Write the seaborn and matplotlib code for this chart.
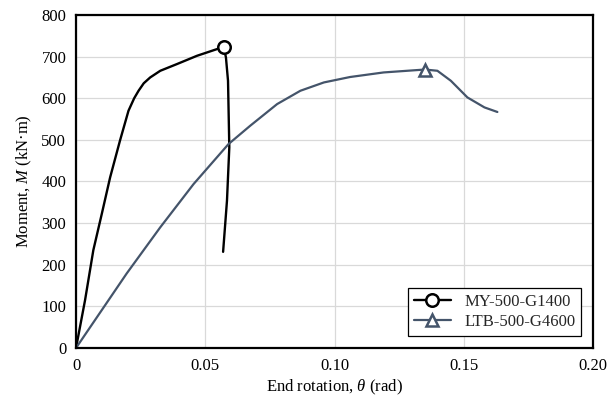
import numpy as np
import pandas as pd
import seaborn as sns
import matplotlib
matplotlib.use("Agg")
import matplotlib.pyplot as plt

# ---- data ----
my_theta = [0.0, 0.0035, 0.0067, 0.0100, 0.0132, 0.0170, 0.0203, 0.0225, 0.0242, 0.0262, 0.0287,
            0.0326, 0.0390, 0.0468, 0.0545, 0.0571, 0.0580, 0.0588, 0.0593, 0.0584, 0.0569]
my_moment = [0, 115, 235, 323, 410, 498, 570, 600, 618, 636, 650,
             666, 682, 702, 718, 724, 698, 642, 482, 354, 231]

ltb_theta = [0.0, 0.0196, 0.0326, 0.0455, 0.0590, 0.0674, 0.0778, 0.0868, 0.0959, 0.1060,
             0.1190, 0.1350, 0.1398, 0.1450, 0.1514, 0.1580, 0.1630]
ltb_moment = [0, 179, 290, 394, 490, 534, 586, 618, 638, 651,
              662, 669, 666, 642, 602, 578, 567]

series_names = ["MY-500-G1400", "LTB-500-G4600"]
x_ticks = [0, 0.05, 0.10, 0.15, 0.20]
x_tick_labels = ["0", "0.05", "0.10", "0.15", "0.20"]
y_ticks = [0, 100, 200, 300, 400, 500, 600, 700, 800]

sns.set_theme(style="whitegrid")
plt.rcParams["font.family"] = ["Liberation Serif", "DejaVu Serif"]
plt.rcParams["mathtext.fontset"] = "custom"
plt.rcParams["mathtext.rm"] = "Liberation Serif"
plt.rcParams["mathtext.it"] = "Liberation Serif:italic"

fig = plt.figure(figsize=(6.16, 4.01), dpi=100)
ax = fig.add_axes([0.1234, 0.1322, 0.8393, 0.8304])

slate = "#44546A"
my_peak = int(np.argmax(my_moment))
ltb_peak = int(np.argmax(ltb_moment))

sns.lineplot(x=my_theta, y=my_moment, sort=False, estimator=None, ax=ax,
             color="black", lw=1.7, marker="o", markevery=[my_peak],
             markersize=9, markerfacecolor="white", markeredgecolor="black",
             markeredgewidth=1.8, label=series_names[0])
sns.lineplot(x=ltb_theta, y=ltb_moment, sort=False, estimator=None, ax=ax,
             color=slate, lw=1.6, marker="^", markevery=[ltb_peak],
             markersize=9, markerfacecolor="white", markeredgecolor=slate,
             markeredgewidth=1.8, label=series_names[1])

ax.set_xlim(0, 0.20)
ax.set_ylim(0, 800)
ax.set_xticks(x_ticks)
ax.set_xticklabels(x_tick_labels)
ax.set_yticks(y_ticks)
ax.tick_params(axis="both", labelsize=12, colors="black", length=0, pad=7)
ax.grid(True, color="#d9d9d9", lw=0.9)
for s in ax.spines.values():
    s.set_color("black")
    s.set_linewidth(1.6)

ax.set_xlabel(r"End rotation, $\theta$ (rad)", fontsize=12, color="black", labelpad=3)
ax.set_ylabel(r"Moment, $M$ (kN·m)", fontsize=12, color="black", labelpad=5)

leg = ax.legend(loc="lower right", fontsize=12, frameon=True, fancybox=False,
                edgecolor="black", framealpha=1, borderpad=0.35, handlelength=2.2,
                labelspacing=0.25, bbox_to_anchor=(0.993, 0.012))
leg.get_frame().set_linewidth(0.9)

fig.savefig("out.png", dpi=100)
